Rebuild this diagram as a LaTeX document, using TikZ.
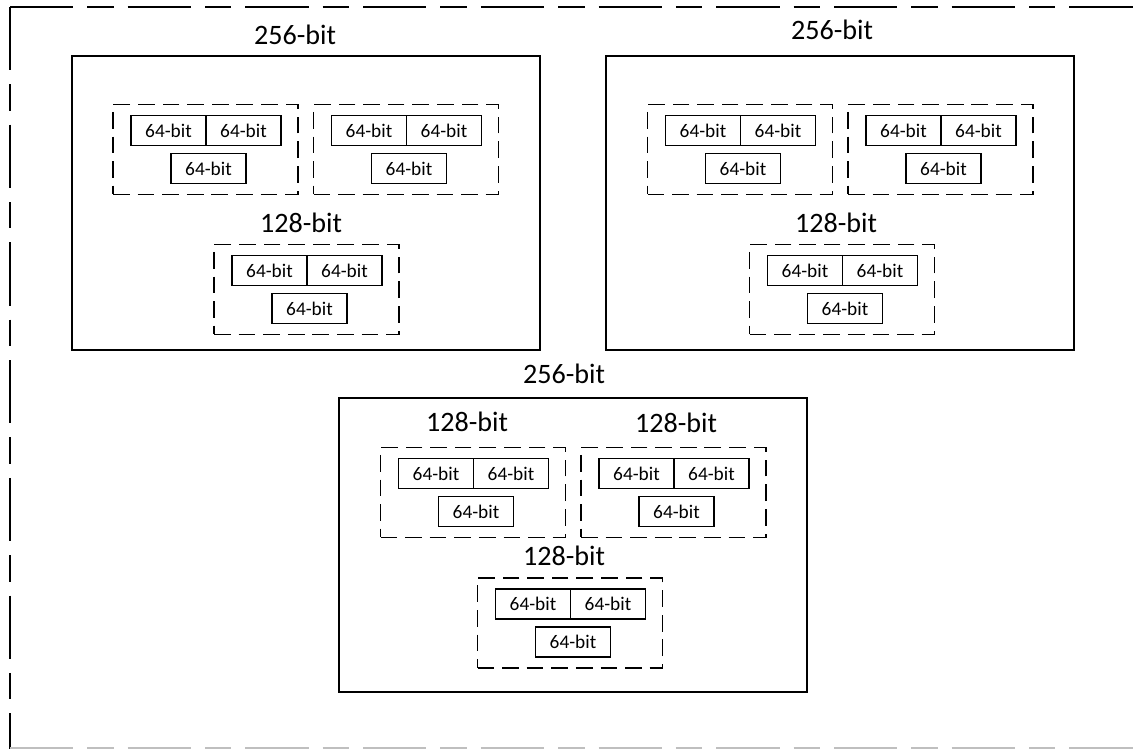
\documentclass[tikz,border=0pt]{standalone}
\usepackage{fontspec}
\setmainfont{Carlito}
\usetikzlibrary{positioning}
\tikzset{
  bitbox/.style={draw, line width=1.1pt, minimum width=1.5cm, minimum height=0.6cm, inner sep=0pt, font=\fontsize{11}{13}\selectfont},
  grpbox/.style={draw, line width=1.1pt, dash pattern=on 9.5pt off 4.5pt, minimum width=3.7cm, minimum height=1.8cm},
  wordbox/.style={draw, line width=1pt, minimum width=9.36cm, minimum height=5.88cm},
  biglbl/.style={inner sep=0pt, font=\fontsize{16}{19}\selectfont},
  outerline/.style={line width=1.1pt, dash pattern=on 36pt off 8pt on 15pt off 8pt},
  grp/.pic={
    \node[grpbox] (-g) at (0,0) {};
    \node[bitbox] (-l) at (-37,-19) {64-bit};
    \node[bitbox] (-r) at (38,-19) {64-bit};
    \node[bitbox] (-b) at (3,19) {64-bit};
  },
}

\begin{document}
\begin{tikzpicture}[x=0.02cm, y=-0.02cm]
  \useasboundingbox (0,0) rectangle (1136,749);
  \fill[white] (0,0) rectangle (1136,749);
  \clip (0,0) rectangle (1136,749);
  \draw[outerline] (10,7) -- (1180,7);
  \draw[outerline] (10,7) -- (10,749);
  \draw[outerline, black!25] (10,748) -- (1180,748);

  % top left 256-bit word
  \node[wordbox] (wA) at (306,203) {};
  \node[biglbl] (tA) at (295,35) {256-bit};
  \pic (a1) at (205.5,149.5) {grp};
  \pic (a2) at (406,149.5) {grp};
  \node[biglbl] (hA) at (301,223) {128-bit};
  \pic (a3) at (306.5,289.5) {grp};

  % top right 256-bit word
  \node[wordbox] (wB) at (840,203) {};
  \node[biglbl] (tB) at (832,30) {256-bit};
  \pic (b1) at (740,149.5) {grp};
  \pic (b2) at (940.5,149.5) {grp};
  \node[biglbl] (hB) at (836,223) {128-bit};
  \pic (b3) at (842,289.5) {grp};

  % bottom 256-bit word
  \node[wordbox] (wC) at (573,545) {};
  \node[biglbl] (tC) at (564,374) {256-bit};
  \node[biglbl] (hC1) at (467,422) {128-bit};
  \node[biglbl] (hC2) at (676,423) {128-bit};
  \pic (c1) at (473,492.5) {grp};
  \pic (c2) at (673.5,492.5) {grp};
  \node[biglbl] (hC3) at (564,556) {128-bit};
  \pic (c3) at (570,623) {grp};
\end{tikzpicture}
\end{document}
